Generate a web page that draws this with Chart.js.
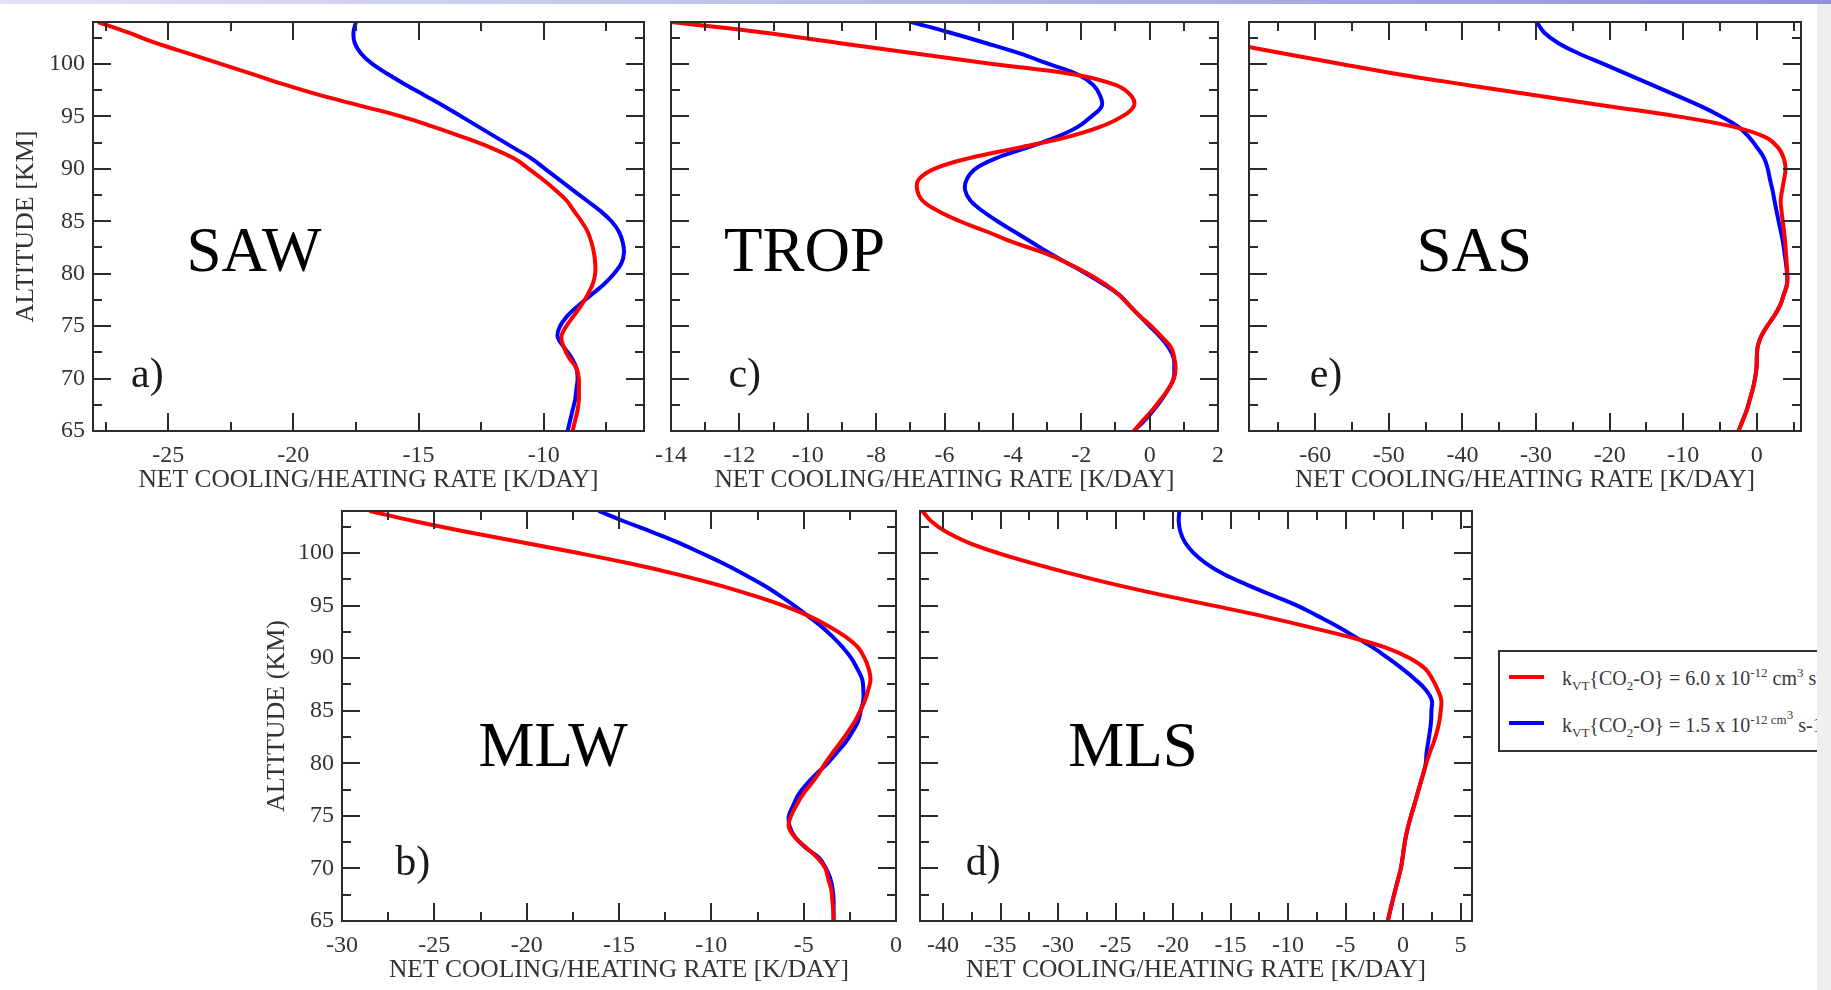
<!DOCTYPE html>
<html>
<head>
<meta charset="utf-8">
<title>Net cooling/heating rate profiles</title>
<script src="https://cdn.jsdelivr.net/npm/chart.js@4.4.1/dist/chart.umd.min.js"></script>
<style>
  html, body { margin: 0; padding: 0; }
  body { position: relative; width: 1831px; height: 990px; overflow: hidden; background: #fff;
         font-family: "Liberation Serif", "Times New Roman", serif; }
  canvas { position: absolute; }
  #topbar { position: absolute; left: 0; top: 0; width: 1831px; height: 4px; z-index: 5;
            background: linear-gradient(to right, #e2e2f5, #9090de); }
  #strip { position: absolute; left: 1817px; top: 4px; width: 14px; height: 986px; background: #efefef; z-index: 5; }
  #legend { position: absolute; left: 1498px; top: 650px; width: 360px; height: 98px; border: 2px solid #333;
            color: #383838; font-size: 20px; line-height: 20px; white-space: nowrap; }
  #legend .swatch { position: absolute; left: 9px; width: 35px; height: 4px; }
  #legend .text { position: absolute; left: 62px; }
  #legend sub, #legend sup { font-size: 13px; line-height: 0; }
</style>
</head>
<body>
<div id="topbar"></div>
<canvas id="chartSAW" width="664" height="497" style="left:0px;top:-4px"></canvas>
<canvas id="chartTROP" width="597" height="497" style="left:641px;top:-4px"></canvas>
<canvas id="chartSAS" width="602" height="497" style="left:1219px;top:-4px"></canvas>
<canvas id="chartMLW" width="674" height="498" style="left:242px;top:485px"></canvas>
<canvas id="chartMLS" width="602" height="498" style="left:890px;top:485px"></canvas>
<div id="legend">
  <div class="swatch" id="swatchRed" style="top:23px"></div>
  <div class="text" style="top:16px">k<sub>VT</sub>{CO<sub>2</sub>-O} = 6.0 x 10<sup>-12</sup> cm<sup>3</sup> s<sup>-1</sup></div>
  <div class="swatch" id="swatchBlue" style="top:69px"></div>
  <div class="text" style="top:63px">k<sub>VT</sub>{CO<sub>2</sub>-O} = 1.5 x 10<sup>-12 cm<sup>3</sup></sup> s-1</div>
</div>
<div id="strip"></div>
<script>
'use strict';

// altitude levels [km], shared by every profile
const altitude = [65, 66, 67, 68, 69, 70, 71, 72, 73, 74, 75, 76, 77, 78, 79, 80, 81, 82, 83, 84,
                  85, 86, 87, 88, 89, 90, 91, 92, 93, 94, 95, 96, 97, 98, 99, 100, 101, 102, 103, 104];

// net cooling/heating rate [K/day], red = kVT 6.0e-12, blue = kVT 1.5e-12
const sawRed  = [-8.85, -8.75, -8.65, -8.6, -8.6, -8.6, -8.7, -9.0, -9.2, -9.3, -9.1, -8.8, -8.5, -8.25, -8.05, -7.95, -7.95, -8.0, -8.1, -8.25,
                 -8.5, -8.8, -9.1, -9.55, -10.05, -10.6, -11.2, -12.1, -13.2, -14.4, -15.7, -17.3, -18.9, -20.3, -21.6, -22.9, -24.2, -25.5, -26.6, -27.8];
const sawBlue = [-9.05, -8.95, -8.85, -8.75, -8.7, -8.65, -8.7, -8.9, -9.2, -9.45, -9.35, -9.05, -8.6, -8.1, -7.6, -7.2, -6.9, -6.8, -6.85, -7.0,
                 -7.3, -7.75, -8.3, -8.85, -9.4, -9.95, -10.5, -11.2, -11.9, -12.6, -13.3, -14.0, -14.75, -15.5, -16.2, -16.85, -17.3, -17.55, -17.6, -17.5];

const tropRed  = [-0.46, -0.2, 0.08, 0.32, 0.55, 0.71, 0.76, 0.72, 0.62, 0.35, 0.05, -0.3, -0.6, -0.9, -1.3, -1.8, -2.4, -3.1, -4.0, -4.75,
                  -5.55, -6.2, -6.65, -6.8, -6.75, -6.3, -5.3, -3.85, -2.45, -1.45, -0.8, -0.46, -0.55, -1.0, -2.2, -4.6, -6.85, -9.1, -11.3, -14.0];
const tropBlue = [-0.46, -0.15, 0.12, 0.35, 0.55, 0.7, 0.72, 0.7, 0.55, 0.3, 0.0, -0.3, -0.6, -0.9, -1.35, -1.85, -2.4, -2.95, -3.45, -3.95,
                  -4.45, -4.9, -5.25, -5.4, -5.35, -5.1, -4.5, -3.6, -2.75, -2.1, -1.7, -1.4, -1.45, -1.65, -2.1, -2.95, -3.8, -4.8, -5.85, -6.97];

const sasRed  = [-2.5, -1.92, -1.37, -0.96, -0.55, -0.25, -0.05, 0.0, 0.1, 0.57, 1.4, 2.38, 3.17, 3.66, 4.1, 4.15, 4.05, 3.95, 3.85, 3.7,
                 3.52, 3.35, 3.24, 3.45, 3.7, 3.9, 3.66, 2.92, 1.21, -3.1, -10.8, -20.4, -29.9, -39.4, -48.5, -56.5, -64.3, -72.0, -80.0, -88.0];
const sasBlue = [-2.5, -1.92, -1.37, -0.96, -0.55, -0.25, -0.05, 0.0, 0.1, 0.57, 1.4, 2.38, 3.17, 3.66, 4.1, 4.1, 3.95, 3.75, 3.55, 3.27,
                 2.96, 2.67, 2.39, 2.12, 1.78, 1.48, 1.0, 0.07, -1.03, -2.5, -4.86, -7.7, -10.95, -14.25, -17.56, -20.85, -24.2, -27.0, -28.9, -29.9];

const mlwRed  = [-3.38, -3.4, -3.45, -3.51, -3.67, -3.83, -4.25, -4.87, -5.49, -5.81, -5.68, -5.39, -5.06, -4.62, -4.2, -3.84, -3.43, -3.0, -2.6, -2.23,
                 -1.93, -1.68, -1.5, -1.38, -1.48, -1.7, -2.05, -2.7, -3.6, -4.7, -6.1, -7.8, -9.7, -11.9, -14.4, -17.2, -20.2, -23.2, -26.0, -28.5];
const mlwBlue = [-3.38, -3.38, -3.38, -3.43, -3.55, -3.79, -4.16, -4.91, -5.47, -5.76, -5.8, -5.56, -5.29, -4.85, -4.31, -3.71, -3.21, -2.73, -2.36, -2.05,
                 -1.91, -1.77, -1.77, -1.83, -2.1, -2.42, -2.87, -3.41, -4.03, -4.76, -5.51, -6.33, -7.23, -8.26, -9.34, -10.55, -11.78, -13.2, -14.7, -16.1];

const mlsRed  = [-1.32, -1.11, -0.89, -0.66, -0.42, -0.19, -0.04, 0.09, 0.24, 0.45, 0.7, 0.97, 1.23, 1.49, 1.76, 2.02, 2.32, 2.67, 2.95, 3.16,
                 3.28, 3.33, 3.02, 2.56, 1.93, 0.6, -1.5, -4.6, -8.3, -12.2, -16.5, -20.9, -25.0, -28.7, -32.1, -35.2, -37.8, -39.7, -41.0, -41.8];
const mlsBlue = [-1.32, -1.11, -0.89, -0.66, -0.42, -0.19, -0.04, 0.09, 0.24, 0.45, 0.7, 0.97, 1.23, 1.49, 1.76, 1.98, 2.05, 2.19, 2.33, 2.44,
                 2.47, 2.5, 1.97, 1.04, -0.07, -1.29, -2.6, -4.12, -5.65, -7.4, -9.2, -11.4, -13.6, -15.6, -17.1, -18.2, -18.95, -19.35, -19.5, -19.45];

const seriesLabels = ['kVT{CO2-O} = 6.0 x 10-12 cm3 s-1', 'kVT{CO2-O} = 1.5 x 10-12 cm3 s-1'];

// tick labels
const altTicks  = [65, 70, 75, 80, 85, 90, 95, 100];
const sawTicks  = [-25, -20, -15, -10];
const tropTicks = [-14, -12, -10, -8, -6, -4, -2, 0, 2];
const sasTicks  = [-60, -50, -40, -30, -20, -10, 0];
const mlwTicks  = [-30, -25, -20, -15, -10, -5, 0];
const mlsTicks  = [-40, -35, -30, -25, -20, -15, -10, -5, 0, 5];

const RED = '#ff0000';
const BLUE = '#0000ff';
const INK = '#333';
const FONT = '"Liberation Serif", "Times New Roman", serif';

document.getElementById('swatchRed').style.background = RED;
document.getElementById('swatchBlue').style.background = BLUE;

function profile(values) {
  return altitude.map((a, i) => ({ x: values[i], y: a }));
}

// box frame with inward major/minor ticks on all four sides, plus panel captions
const frame = {
  id: 'frame',
  afterDatasetsDraw(chart, args, o) {
    const { ctx, chartArea: a, scales: { x, y } } = chart;
    ctx.save();
    ctx.strokeStyle = '#2b2b2b';
    ctx.lineWidth = 2;
    ctx.beginPath();
    for (let i = Math.ceil(x.min / o.xMinor - 1e-9); i * o.xMinor <= x.max + 1e-9; i++) {
      const v = i * o.xMinor;
      const px = Math.round(x.getPixelForValue(v));
      const len = Math.abs(v / o.xMajor - Math.round(v / o.xMajor)) < 1e-6 ? 18 : 9;
      ctx.moveTo(px, a.bottom); ctx.lineTo(px, a.bottom - len);
      ctx.moveTo(px, a.top); ctx.lineTo(px, a.top + len);
    }
    for (let i = Math.ceil(y.min / 2.5 - 1e-9); i * 2.5 <= y.max + 1e-9; i++) {
      const v = i * 2.5;
      const py = Math.round(y.getPixelForValue(v));
      const len = v % 5 === 0 ? 18 : 9;
      ctx.moveTo(a.left, py); ctx.lineTo(a.left + len, py);
      ctx.moveTo(a.right, py); ctx.lineTo(a.right - len, py);
    }
    ctx.stroke();
    ctx.strokeRect(Math.round(a.left), Math.round(a.top), Math.round(a.width), Math.round(a.height));

    ctx.fillStyle = '#000';
    ctx.textBaseline = 'alphabetic';
    ctx.textAlign = 'center';
    ctx.font = '63px ' + FONT;
    ctx.fillText(o.name, a.left + o.nx * a.width, a.top + o.ny * a.height);
    ctx.fillStyle = '#1a1a1a';
    ctx.textAlign = 'left';
    ctx.font = '42px ' + FONT;
    ctx.fillText(o.tag, a.left + o.tx * a.width, a.top + o.ty * a.height);
    ctx.restore();
  }
};

function panel(id, cfg) {
  new Chart(document.getElementById(id), {
    type: 'line',
    data: {
      datasets: [
        { label: seriesLabels[0], data: profile(cfg.red), borderColor: RED },
        { label: seriesLabels[1], data: profile(cfg.blue), borderColor: BLUE }
      ]
    },
    options: {
      responsive: false,
      animation: false,
      devicePixelRatio: 1,
      events: [],
      layout: { padding: { top: 26, right: 20, left: 0, bottom: 0 } },
      elements: {
        point: { radius: 0 },
        line: { borderWidth: 4, tension: 0.4, borderJoinStyle: 'round', fill: false }
      },
      plugins: {
        legend: { display: false },
        tooltip: { enabled: false },
        frame: cfg.caption
      },
      scales: {
        x: {
          type: 'linear',
          min: cfg.xMin,
          max: cfg.xMax,
          grid: { display: false, drawTicks: false },
          border: { display: false },
          afterBuildTicks: s => { s.ticks = cfg.xTicks.map(v => ({ value: v })); },
          afterFit: s => { s.height = 62; },
          ticks: { color: INK, font: { family: FONT, size: 24 }, padding: 10, maxRotation: 0, autoSkip: false },
          title: {
            display: true, text: 'NET COOLING/HEATING RATE [K/DAY]', color: INK,
            font: { family: FONT, size: 25.5, lineHeight: 1 }, padding: { top: 0, bottom: 0 }
          }
        },
        y: {
          type: 'linear',
          min: 65,
          max: 104,
          grid: { display: false, drawTicks: false },
          border: { display: false },
          afterBuildTicks: s => { s.ticks = altTicks.map(v => ({ value: v })); },
          afterFit: s => { s.width = cfg.yWidth; },
          ticks: { display: !!cfg.yTitle, color: INK, font: { family: FONT, size: 24 }, padding: 8 },
          title: {
            display: !!cfg.yTitle, text: cfg.yTitle || '', color: INK,
            font: { family: FONT, size: 26, lineHeight: 1 }, padding: { top: cfg.yTitlePad || 0, bottom: 0 }
          }
        }
      }
    },
    plugins: [frame]
  });
}

panel('chartSAW', {
  red: sawRed, blue: sawBlue, xMin: -28, xMax: -6, xTicks: sawTicks,
  yWidth: 93, yTitle: 'ALTITUDE [KM]', yTitlePad: 13,
  caption: { name: 'SAW', nx: 0.292, ny: 0.609, tag: 'a)', tx: 0.069, ty: 0.893, xMajor: 5, xMinor: 2.5 }
});

panel('chartTROP', {
  red: tropRed, blue: tropBlue, xMin: -14, xMax: 2, xTicks: tropTicks,
  yWidth: 30,
  caption: { name: 'TROP', nx: 0.244, ny: 0.609, tag: 'c)', tx: 0.105, ty: 0.893, xMajor: 2, xMinor: 1 }
});

panel('chartSAS', {
  red: sasRed, blue: sasBlue, xMin: -69, xMax: 6, xTicks: sasTicks,
  yWidth: 30,
  caption: { name: 'SAS', nx: 0.408, ny: 0.609, tag: 'e)', tx: 0.11, ty: 0.893, xMajor: 10, xMinor: 5 }
});

panel('chartMLW', {
  red: mlwRed, blue: mlwBlue, xMin: -30, xMax: 0, xTicks: mlwTicks,
  yWidth: 100, yTitle: 'ALTITUDE (KM)', yTitlePad: 22,
  caption: { name: 'MLW', nx: 0.381, ny: 0.622, tag: 'b)', tx: 0.096, ty: 0.888, xMajor: 5, xMinor: 2.5 }
});

panel('chartMLS', {
  red: mlsRed, blue: mlsBlue, xMin: -42, xMax: 6, xTicks: mlsTicks,
  yWidth: 30,
  caption: { name: 'MLS', nx: 0.386, ny: 0.622, tag: 'd)', tx: 0.083, ty: 0.888, xMajor: 5, xMinor: 2.5 }
});
</script>
</body>
</html>
